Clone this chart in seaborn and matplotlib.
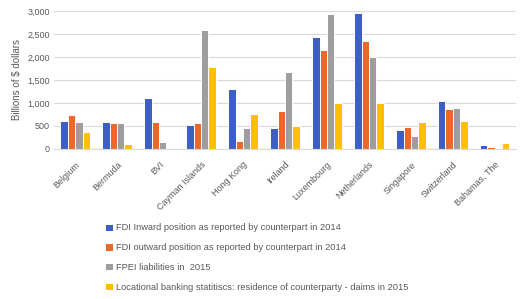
import matplotlib
matplotlib.use("Agg")
import matplotlib.pyplot as plt
import seaborn as sns
import pandas as pd
from matplotlib.ticker import FuncFormatter

countries = ["Belgium", "Bermuda", "BVI", "Cayman Islands", "Hong Kong", "Ireland",
             "Luxembourg", "Netherlands", "Singapore", "Switzerland", "Bahamas, The"]
series_names = [
    "FDI Inward position as reported by counterpart in 2014",
    "FDI outward position as reported by counterpart in 2014",
    "FPEI liabilities in  2015",
    "Locational banking statitiscs: residence of counterparty - daims in 2015",
]
fdi_inward = [602, 580, 1112, 530, 1293, 458, 2426, 2956, 405, 1038, 78]
fdi_outward = [733, 558, 580, 558, 181, 835, 2150, 2354, 486, 863, 50]
fpei = [591, 558, 153, 2579, 458, 1670, 2928, 1997, 283, 894, 28]
lbs = [377, 109, 0, 1772, 763, 508, 1003, 1003, 580, 610, 131]

colors = ["#3D5FC4", "#E8692A", "#9E9E9E", "#FFC000"]

df = pd.DataFrame({
    "country": countries * 4,
    "series": [s for s in series_names for _ in countries],
    "value": fdi_inward + fdi_outward + fpei + lbs,
})

sns.set_style("white")
plt.rcParams["font.family"] = ["Liberation Sans", "DejaVu Sans"]
text_color = "#595959"

fig = plt.figure(figsize=(5.21, 2.99), dpi=100)
ax = fig.add_axes([0.104, 0.502, 0.886, 0.461])

sns.barplot(data=df, x="country", y="value", hue="series", palette=colors,
            saturation=1, width=0.7, edgecolor="white", linewidth=0.7,
            ax=ax, legend=True)

ax.set_ylim(0, 3000)
ax.set_yticks(range(0, 3001, 500))
ax.yaxis.set_major_formatter(FuncFormatter(lambda v, p: f"{int(v):,}"))
ax.grid(axis="y", color="#D9D9D9", linewidth=0.8)
ax.set_axisbelow(True)
for s in ["top", "right", "left"]:
    ax.spines[s].set_visible(False)
ax.spines["bottom"].set_color("#D9D9D9")
ax.tick_params(axis="y", length=0, labelsize=6.5, colors=text_color, pad=3)
ax.tick_params(axis="x", length=0, labelsize=6.5, colors=text_color, pad=8)
ax.set_xlabel("")
ax.set_ylabel("Billions of $ dollars", fontsize=7, color=text_color)
plt.setp(ax.get_xticklabels(), rotation=45, ha="right", rotation_mode="anchor")
ax.set_xlim(-0.5, len(countries) - 0.5)

handles, labels = ax.get_legend_handles_labels()
ax.get_legend().remove()
fig.legend(handles, labels, loc="upper left", bbox_to_anchor=(0.195, 0.265),
           frameon=False, fontsize=6.7, labelcolor=text_color, ncol=1,
           handlelength=0.8, handleheight=0.8, handletextpad=0.4,
           labelspacing=1.15, borderaxespad=0)

fig.savefig("out.png", dpi=100)
